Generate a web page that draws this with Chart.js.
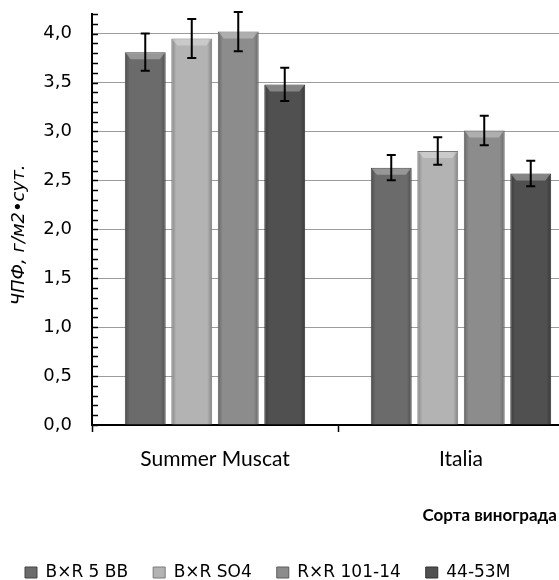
<!DOCTYPE html>
<html>
<head>
<meta charset="utf-8">
<title>ЧПФ по сортам винограда</title>
<script src="https://cdn.jsdelivr.net/npm/chart.js@4/dist/chart.umd.min.js"></script>
<style>
  html, body { margin: 0; padding: 0; background: #ffffff; overflow: hidden; }
  #wrap { width: 559px; height: 580px; position: relative; overflow: hidden; }
  #c { position: absolute; left: 0; top: 0; }
</style>
</head>
<body>
<div id="wrap"><canvas id="c" width="584" height="591"></canvas></div>
<script>
// Grape varieties (x categories) and rootstock series
const categories = ['Summer Muscat', 'Italia'];
const seriesNames = ['B×R 5 BB', 'B×R SO4', 'R×R 101-14', '44-53M'];

// Net photosynthetic productivity, g/m2 per day
const bxr5bb = [3.81, 2.63];
const bxrSo4 = [3.95, 2.80];
const rxr10114 = [4.02, 3.01];
const r4453m = [3.48, 2.57];

// Error (± half-range) for each bar
const bxr5bbErr = [0.19, 0.13];
const bxrSo4Err = [0.20, 0.14];
const rxr10114Err = [0.20, 0.15];
const r4453mErr = [0.17, 0.13];

// Value axis
const yMin = 0;
const yMax = 4.2;
const yMajorStep = 0.5;
const yMinorStep = 0.1;

const yTitle = 'ЧПФ, г/м2•сут.';
const xTitle = 'Сорта винограда';

const fills = ['#6b6b6b', '#b3b3b3', '#8c8c8c', '#505050'];
const borders = ['#454545', '#7a7a7a', '#5c5c5c', '#303030'];

const seriesValues = [bxr5bb, bxrSo4, rxr10114, r4453m];
const seriesErrors = [bxr5bbErr, bxrSo4Err, rxr10114Err, r4453mErr];

// Bevel shading on each bar: darker sides and a light strip on top
const bevelPlugin = {
  id: 'bevel',
  afterDatasetsDraw(chart) {
    const ctx = chart.ctx;
    ctx.save();
    chart.data.datasets.forEach((ds, i) => {
      const meta = chart.getDatasetMeta(i);
      meta.data.forEach((bar) => {
        const w = bar.width;
        const left = bar.x - w / 2;
        const right = bar.x + w / 2;
        const top = bar.y;
        const h = bar.base - bar.y;
        const g = ctx.createLinearGradient(left, 0, right, 0);
        g.addColorStop(0, 'rgba(0,0,0,0.28)');
        g.addColorStop(0.12, 'rgba(0,0,0,0.0)');
        g.addColorStop(0.88, 'rgba(0,0,0,0.0)');
        g.addColorStop(1, 'rgba(0,0,0,0.28)');
        ctx.fillStyle = g;
        ctx.fillRect(left + 1, top + 1, w - 2, h - 1);
        ctx.fillStyle = 'rgba(255,255,255,0.30)';
        ctx.beginPath();
        ctx.moveTo(left + 1, top + 1);
        ctx.lineTo(right - 1, top + 1);
        ctx.lineTo(right - 6, top + 7);
        ctx.lineTo(left + 6, top + 7);
        ctx.closePath();
        ctx.fill();
      });
    });
    ctx.restore();
  }
};

// Error bars with caps, placed through the value scale
const errorBarPlugin = {
  id: 'errorBars',
  afterDatasetsDraw(chart) {
    const ctx = chart.ctx;
    const y = chart.scales.y;
    ctx.save();
    ctx.strokeStyle = '#000000';
    ctx.lineWidth = 2;
    chart.data.datasets.forEach((ds, i) => {
      const meta = chart.getDatasetMeta(i);
      meta.data.forEach((bar, j) => {
        const v = ds.data[j];
        const e = ds.errors[j];
        const yTop = y.getPixelForValue(v + e);
        const yBot = y.getPixelForValue(v - e);
        const cap = 4.5;
        ctx.beginPath();
        ctx.moveTo(bar.x, yTop);
        ctx.lineTo(bar.x, yBot);
        ctx.moveTo(bar.x - cap, yTop);
        ctx.lineTo(bar.x + cap, yTop);
        ctx.moveTo(bar.x - cap, yBot);
        ctx.lineTo(bar.x + cap, yBot);
        ctx.stroke();
      });
    });
    ctx.restore();
  }
};

// Inside tick marks on the value axis, plus both axis titles
const axisDecorPlugin = {
  id: 'axisDecor',
  afterDraw(chart) {
    const ctx = chart.ctx;
    const y = chart.scales.y;
    const area = chart.chartArea;
    ctx.save();
    ctx.strokeStyle = '#000000';
    ctx.lineWidth = 1.5;
    const n = Math.round((yMax - yMin) / yMinorStep);
    for (let k = 0; k <= n; k++) {
      const py = Math.round(y.getPixelForValue(yMin + k * yMinorStep)) + 0.5;
      ctx.beginPath();
      ctx.moveTo(area.left, py);
      ctx.lineTo(area.left + 6, py);
      ctx.stroke();
    }
    ctx.fillStyle = '#000000';
    ctx.textBaseline = 'middle';

    ctx.font = 'bold 17px Lato';
    ctx.textAlign = 'right';
    ctx.fillText(xTitle, 557, 516);

    ctx.translate(19, 235);
    ctx.rotate(-Math.PI / 2);
    ctx.font = 'italic 18px "DejaVu Sans"';
    ctx.textAlign = 'center';
    ctx.fillText(yTitle, 0, 0);
    ctx.restore();
  }
};

const datasets = seriesNames.map((name, i) => ({
  label: name,
  data: seriesValues[i],
  errors: seriesErrors[i],
  backgroundColor: fills[i],
  borderColor: borders[i],
  borderWidth: 1,
  categoryPercentage: 0.756,
  barPercentage: 0.88
}));

new Chart(document.getElementById('c'), {
  type: 'bar',
  data: { labels: categories, datasets },
  plugins: [bevelPlugin, errorBarPlugin, axisDecorPlugin],
  options: {
    responsive: false,
    devicePixelRatio: 1,
    animation: false,
    layout: { padding: { top: 14, right: 0, left: 0, bottom: 0 } },
    plugins: {
      tooltip: { enabled: false },
      legend: {
        position: 'bottom',
        align: 'start',
        labels: {
          boxWidth: 12,
          boxHeight: 11,
          padding: 25,
          color: '#000000',
          font: { family: 'DejaVu Sans', size: 17 }
        }
      }
    },
    scales: {
      x: {
        grid: {
          offset: true,
          drawOnChartArea: false,
          drawTicks: true,
          tickLength: 7,
          tickColor: '#000000',
          tickWidth: 1.5
        },
        border: { color: '#000000', width: 2 },
        ticks: {
          color: '#000000',
          padding: 15,
          font: { family: 'Lato', size: 21 }
        },
        afterFit(scale) { scale.height = 114; }
      },
      y: {
        min: yMin,
        max: yMax,
        grid: { color: '#9c9c9c', lineWidth: 1, drawTicks: false },
        border: { color: '#000000', width: 2 },
        ticks: {
          stepSize: yMajorStep,
          includeBounds: false,
          padding: 20,
          color: '#000000',
          font: { family: 'DejaVu Sans', size: 18 },
          callback: (v) => Number(v).toFixed(1).replace('.', ',')
        },
        afterFit(scale) {
          scale.width = 92;
          scale.paddingTop = 0;
          scale.paddingBottom = 0;
        }
      }
    }
  }
});
</script>
</body>
</html>
